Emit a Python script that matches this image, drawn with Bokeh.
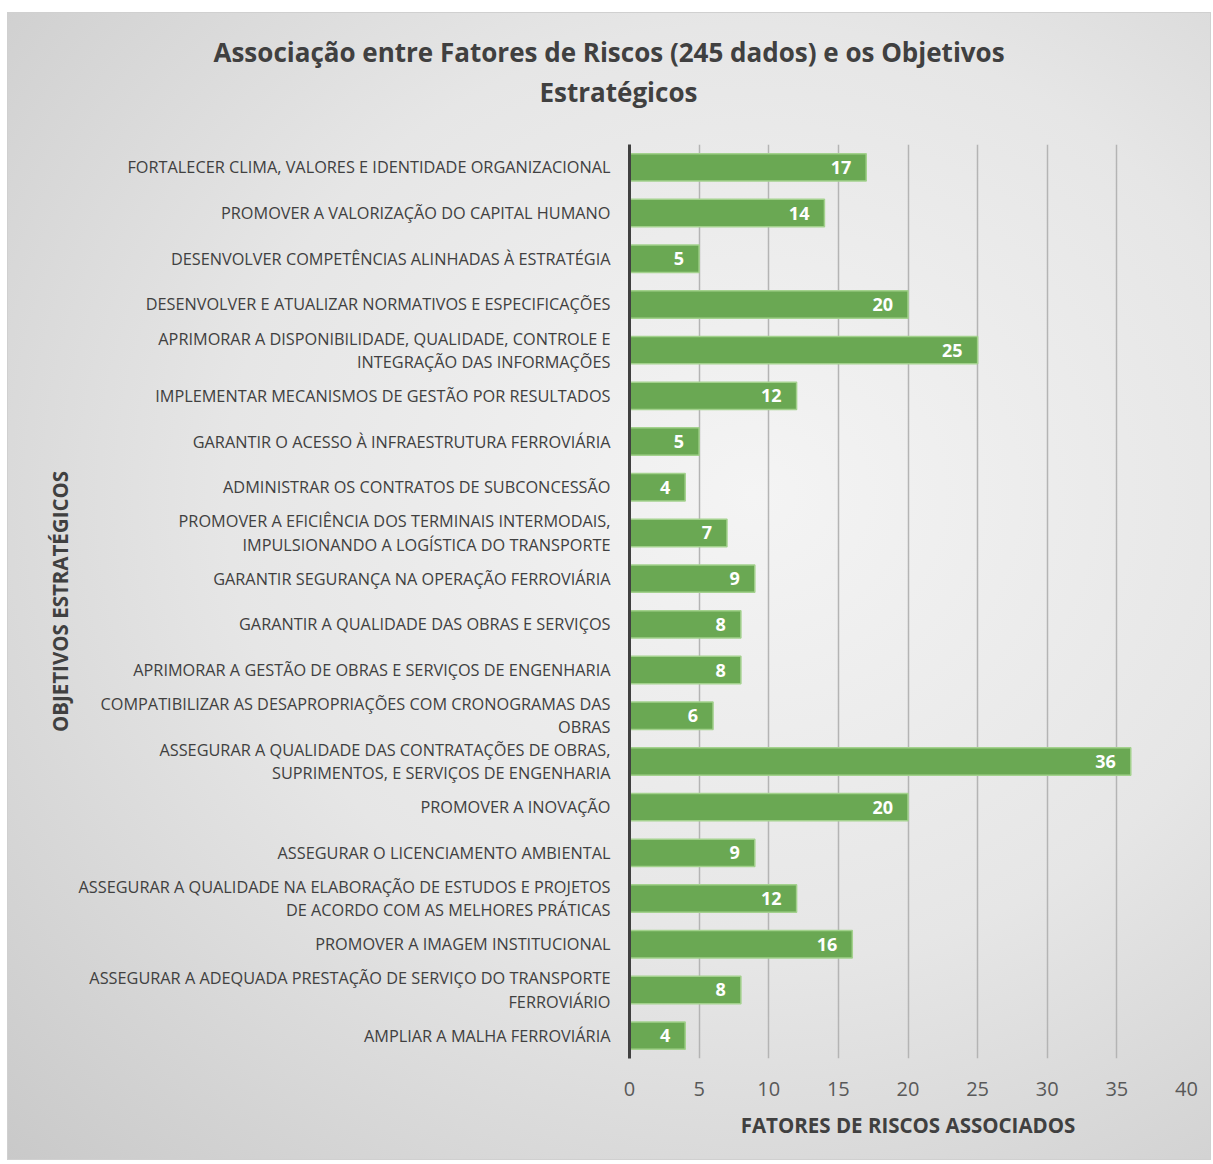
from bokeh.plotting import figure
from bokeh.models import ColumnDataSource, FactorRange, Range1d, FixedTicker, Title
from bokeh.embed import file_html
from bokeh.resources import INLINE
from bokeh.core.properties import value

objetivos = [
    "FORTALECER CLIMA, VALORES E IDENTIDADE ORGANIZACIONAL",
    "PROMOVER A VALORIZAÇÃO DO CAPITAL HUMANO",
    "DESENVOLVER COMPETÊNCIAS ALINHADAS À ESTRATÉGIA",
    "DESENVOLVER E ATUALIZAR NORMATIVOS E ESPECIFICAÇÕES",
    "APRIMORAR A DISPONIBILIDADE, QUALIDADE, CONTROLE E\nINTEGRAÇÃO DAS INFORMAÇÕES",
    "IMPLEMENTAR MECANISMOS DE GESTÃO POR RESULTADOS",
    "GARANTIR O ACESSO À INFRAESTRUTURA FERROVIÁRIA",
    "ADMINISTRAR OS CONTRATOS DE SUBCONCESSÃO",
    "PROMOVER A EFICIÊNCIA DOS TERMINAIS INTERMODAIS,\nIMPULSIONANDO A LOGÍSTICA DO TRANSPORTE",
    "GARANTIR SEGURANÇA NA OPERAÇÃO FERROVIÁRIA",
    "GARANTIR A QUALIDADE DAS OBRAS E SERVIÇOS",
    "APRIMORAR A GESTÃO DE OBRAS E SERVIÇOS DE ENGENHARIA",
    "COMPATIBILIZAR AS DESAPROPRIAÇÕES COM CRONOGRAMAS DAS\nOBRAS",
    "ASSEGURAR A QUALIDADE DAS CONTRATAÇÕES DE OBRAS,\nSUPRIMENTOS, E SERVIÇOS DE ENGENHARIA",
    "PROMOVER A INOVAÇÃO",
    "ASSEGURAR O LICENCIAMENTO AMBIENTAL",
    "ASSEGURAR A QUALIDADE NA ELABORAÇÃO DE ESTUDOS E PROJETOS\nDE ACORDO COM AS MELHORES PRÁTICAS",
    "PROMOVER A IMAGEM INSTITUCIONAL",
    "ASSEGURAR A ADEQUADA PRESTAÇÃO DE SERVIÇO DO TRANSPORTE\nFERROVIÁRIO",
    "AMPLIAR A MALHA FERROVIÁRIA",
]
fatores = [17, 14, 5, 20, 25, 12, 5, 4, 7, 9, 8, 8, 6, 36, 20, 9, 12, 16, 8, 4]
x_ticks = [0, 5, 10, 15, 20, 25, 30, 35, 40]
titulo_l1 = "Associação entre Fatores de Riscos (245 dados) e os Objetivos"
titulo_l2 = "Estratégicos"

FONT = "Open Sans"
DARK = "#404040"

source = ColumnDataSource(dict(obj=objetivos, val=fatores, lab=[str(v) for v in fatores]))

p = figure(
    width=1204, height=1148,
    y_range=FactorRange(*reversed(objetivos)),
    x_range=Range1d(0, 40),
    output_backend="svg", toolbar_location=None,
    min_border_left=621, min_border_right=26, min_border_top=131, min_border_bottom=103,
)
p.title = None
spacer = Title(text=" ", align="left", standoff=-4,
               text_font=FONT, text_font_size="26px", text_font_style="bold", text_color=DARK)
t2 = Title(text=titulo_l2, align="left", offset=-90, standoff=2,
           text_font=FONT, text_font_size="26px", text_font_style="bold", text_color=DARK)
t1 = Title(text=titulo_l1, align="left", offset=-416, standoff=1.4,
           text_font=FONT, text_font_size="26px", text_font_style="bold", text_color=DARK)
p.add_layout(spacer, "above")
p.add_layout(t2, "above")
p.add_layout(t1, "above")

p.background_fill_color = None
p.border_fill_color = None
p.outline_line_color = None
p.styles = {
    "background": "radial-gradient(ellipse at 62% 42%, #f4f4f4 0%, #e6e6e6 50%, #c9c9c9 100%)",
    "border": "1px solid #d0d0d0",
    "margin-left": "7px",
    "margin-top": "12px",
}

p.hbar(y="obj", right="val", left=0, height=0.6, source=source,
       fill_color="#6aa853", line_color="#a3d18d", line_width=1.5)
p.text(x="val", y="obj", text="lab", source=source, x_offset=-15,
       text_align="right", text_baseline="middle", text_color="white",
       text_font=value(FONT), text_font_size="18px", text_font_style="bold")

p.xgrid.ticker = FixedTicker(ticks=x_ticks)
p.xgrid.grid_line_color = "#b4b4b4"
p.xgrid.grid_line_width = 1.5
p.ygrid.grid_line_color = None

xa = p.xaxis[0]
xa.ticker = FixedTicker(ticks=x_ticks)
xa.axis_line_color = None
xa.major_tick_line_color = None
xa.minor_tick_line_color = None
xa.major_label_text_font = FONT
xa.major_label_text_font_size = "20px"
xa.major_label_text_color = "#595959"
xa.major_label_standoff = 17
xa.axis_label = "FATORES DE RISCOS ASSOCIADOS"
xa.axis_label_text_font = FONT
xa.axis_label_text_font_size = "20.5px"
xa.axis_label_text_font_style = "bold"
xa.axis_label_text_color = DARK
xa.axis_label_standoff = 12

ya = p.yaxis[0]
ya.axis_line_color = "#404040"
ya.axis_line_width = 3
ya.major_tick_line_color = None
ya.minor_tick_line_color = None
ya.major_label_text_font = FONT
ya.major_label_text_font_size = "16.3px"
ya.major_label_text_color = DARK
ya.major_label_text_line_height = 1.05
ya.major_label_standoff = 13
ya.axis_label = "OBJETIVOS ESTRATÉGICOS"
ya.axis_label_text_font = FONT
ya.axis_label_text_font_size = "20.5px"
ya.axis_label_text_font_style = "bold"
ya.axis_label_text_color = DARK
ya.axis_label_standoff = 1

open("out.html", "w").write(file_html(p, INLINE))
